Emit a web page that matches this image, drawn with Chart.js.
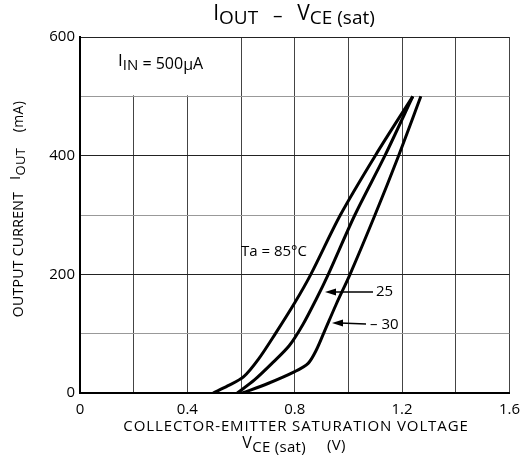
<!DOCTYPE html>
<html>
<head>
<meta charset="utf-8">
<script src="https://cdn.jsdelivr.net/npm/chart.js@4"></script>
<style>
  html, body { margin: 0; padding: 0; background: #fff; }
  #wrap { width: 528px; height: 459px; }
</style>
</head>
<body>
<div id="wrap"><canvas id="chart" width="528" height="459"></canvas></div>
<script>
// VCE(sat) in volts, IOUT in mA
const vce85 = [0.496, 0.55, 0.609, 0.665, 0.728, 0.80, 0.86, 0.97, 1.10, 1.24];
const iout85 = [0, 12, 27, 57, 100, 152, 200, 300, 400, 500];
const vce25 = [0.586, 0.65, 0.72, 0.78, 0.83, 0.88, 0.925, 1.024, 1.136, 1.24];
const iout25 = [0, 22, 52, 80, 115, 158, 200, 300, 400, 500];
const vceM30 = [0.605, 0.70, 0.80, 0.85, 0.88, 0.91, 0.955, 1.006, 1.099, 1.187, 1.27];
const ioutM30 = [0, 16, 36, 50, 72, 103, 150, 200, 300, 400, 500];

const xTickLabels = ["0", "0.4", "0.8", "1.2", "1.6"];
const yTickLabels = ["0", "200", "400", "600"];

const FONT = "'Open Sans', 'Noto Sans', sans-serif";

function toPoints(xs, ys) {
  return xs.map((x, i) => ({ x: x, y: ys[i] }));
}

// draw text with a subscript part, e.g. I + OUT
function drawSub(ctx, parts, x, y, align) {
  let total = 0;
  parts.forEach(p => { ctx.font = p.size + "px " + FONT; total += ctx.measureText(p.t).width; });
  let cx = align === "center" ? x - total / 2 : x;
  parts.forEach(p => {
    ctx.font = p.size + "px " + FONT;
    ctx.textAlign = "left";
    ctx.fillText(p.t, cx, y + (p.dy || 0));
    cx += ctx.measureText(p.t).width;
  });
}

const annotations = {
  id: "annotations",
  beforeDatasetsDraw(chart) {
    const { ctx, scales: { x, y } } = chart;
    ctx.save();
    // blank box behind the I_IN note (no grid inside it)
    const l = x.getPixelForValue(0), r = x.getPixelForValue(0.6);
    const t = y.getPixelForValue(600), b = y.getPixelForValue(500);
    ctx.fillStyle = "#fff";
    ctx.fillRect(l + 1, t + 1, r - l - 2, b - t - 2);
    ctx.restore();
  },
  afterDatasetsDraw(chart) {
    const { ctx } = chart;
    ctx.save();
    ctx.fillStyle = "#000";
    ctx.strokeStyle = "#000";
    ctx.textBaseline = "middle";

    // I_IN note
    drawSub(ctx, [
      { t: "I", size: 17, dy: -3 },
      { t: "IN", size: 15, dy: 2 },
      { t: " = 500", size: 16 },
      { t: "\u03BC", size: 16, dy: 1 },
      { t: "A", size: 16 }
    ], 118, 64, "left");

    // temperature labels
    ctx.font = "15px " + FONT;
    ctx.textAlign = "left";
    ctx.fillText("Ta = 85\u00B0C", 241, 252);
    ctx.fillText("25", 376, 292);
    ctx.fillText("\u2013 30", 370, 325);

    // arrows
    function arrow(x1, y1, x2, y2) {
      ctx.lineWidth = 1.5;
      ctx.beginPath();
      ctx.moveTo(x1, y1);
      ctx.lineTo(x2 + 8, y2);
      ctx.stroke();
      ctx.beginPath();
      ctx.moveTo(x2, y2);
      ctx.lineTo(x2 + 11, y2 - 3.5);
      ctx.lineTo(x2 + 11, y2 + 3.5);
      ctx.closePath();
      ctx.fill();
    }
    arrow(373, 292, 325, 292);
    arrow(366, 324, 332, 323);

    // title
    drawSub(ctx, [
      { t: "I", size: 21, dy: -3 },
      { t: "OUT", size: 19, dy: 2 },
      { t: "   \u2013   ", size: 19 },
      { t: "V", size: 21, dy: -3 },
      { t: "CE (sat)", size: 19, dy: 2 }
    ], 294, 17, "center");

    // x axis title
    ctx.letterSpacing = "0.9px";
    ctx.font = "15px " + FONT;
    ctx.textAlign = "center";
    ctx.fillText("COLLECTOR-EMITTER SATURATION VOLTAGE", 296, 427);
    ctx.letterSpacing = "0.3px";
    drawSub(ctx, [
      { t: "V", size: 16, dy: -3 },
      { t: "CE (sat)", size: 15, dy: 2 },
      { t: "     (V)", size: 15 }
    ], 294, 446, "center");

    // y axis title (rotated)
    ctx.translate(19, 209);
    ctx.rotate(-Math.PI / 2);
    drawSub(ctx, [
      { t: "OUTPUT CURRENT   ", size: 14 },
      { t: "I", size: 15, dy: -3 },
      { t: "OUT", size: 13, dy: 2 },
      { t: "    (mA)", size: 14 }
    ], 0, 0, "center");
    ctx.restore();
  }
};

const curve = {
  showLine: true,
  borderColor: "#000",
  backgroundColor: "#000",
  borderWidth: 3,
  pointRadius: 0,
  tension: 0.3,
  fill: false
};

new Chart(document.getElementById("chart"), {
  type: "scatter",
  data: {
    datasets: [
      Object.assign({ label: "Ta = 85\u00B0C", data: toPoints(vce85, iout85) }, curve),
      Object.assign({ label: "25", data: toPoints(vce25, iout25) }, curve),
      Object.assign({ label: "-30", data: toPoints(vceM30, ioutM30) }, curve)
    ]
  },
  options: {
    responsive: false,
    animation: false,
    layout: { padding: { top: 37, right: 16, left: 0, bottom: 0 } },
    plugins: {
      legend: { display: false },
      title: { display: false },
      tooltip: { enabled: false }
    },
    scales: {
      x: {
        type: "linear",
        min: 0,
        max: 1.6,
        afterFit(scale) { scale.height = 66; },
        border: { color: "#000", width: 2 },
        grid: {
          drawTicks: false,
          color: "#444",
          lineWidth: 1
        },
        ticks: {
          stepSize: 0.2,
          autoSkip: false,
          maxRotation: 0,
          padding: 8,
          color: "#000",
          font: { family: FONT, size: 15 },
          callback(v) {
            const k = Math.round(v * 10);
            return k % 4 === 0 ? xTickLabels[k / 4] : "";
          }
        }
      },
      y: {
        type: "linear",
        min: 0,
        max: 600,
        afterFit(scale) { scale.width = 80; },
        border: { color: "#000", width: 2 },
        grid: {
          drawTicks: false,
          color(c) { return c.tick && c.tick.value % 200 === 0 ? "#222" : "#999"; },
          lineWidth: 1
        },
        ticks: {
          stepSize: 100,
          autoSkip: false,
          padding: 5,
          color: "#000",
          font: { family: FONT, size: 15 },
          callback(v) {
            return v % 200 === 0 ? yTickLabels[v / 200] : "";
          }
        }
      }
    }
  },
  plugins: [annotations]
});
</script>
</body>
</html>
